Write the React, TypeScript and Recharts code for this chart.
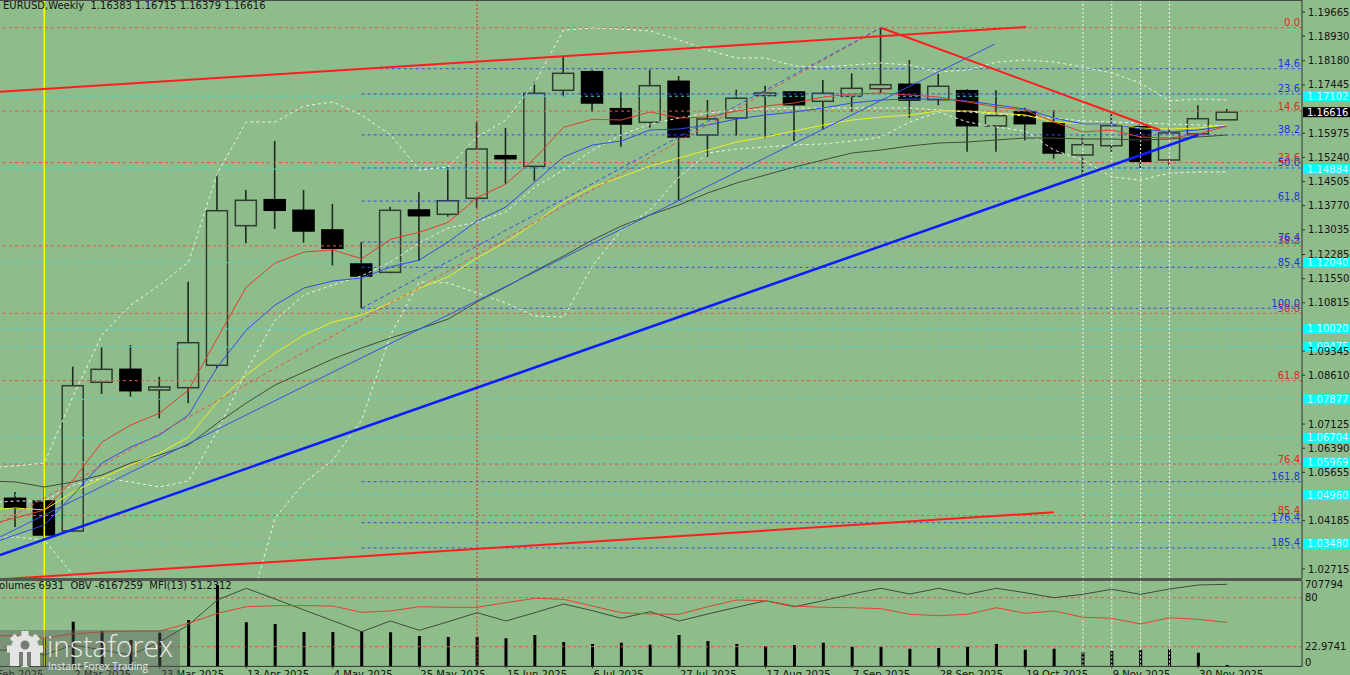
import React from "react";
import { ComposedChart, Bar, Line, XAxis, YAxis, ReferenceLine } from "recharts";

const BG = "#8fbc8b";
const FONT = '"DejaVu Sans", Verdana, sans-serif';
const INK = "#141414";

// weekly candles, week 0 = 16 Feb 2025 ... week 42 = 7 Dec 2025
const opens = [1.04866, 1.04784, 1.03871, 1.08396, 1.08791, 1.08162, 1.08232, 1.08913, 1.13162, 1.13953, 1.1363, 1.13031, 1.11996, 1.11743, 1.13639, 1.13508, 1.13995, 1.15292, 1.14969, 1.17282, 1.17848, 1.16722, 1.16308, 1.17556, 1.15922, 1.16439, 1.17118, 1.1723, 1.16947, 1.17099, 1.17331, 1.17465, 1.16996, 1.1727, 1.16196, 1.16631, 1.16287, 1.15313, 1.15596, 1.16174, 1.15161, 1.15952, 1.16383];
const highs = [1.05057, 1.05249, 1.08871, 1.09461, 1.09531, 1.08566, 1.11457, 1.14726, 1.14248, 1.15739, 1.14248, 1.13822, 1.12665, 1.1374, 1.14178, 1.14948, 1.16308, 1.16135, 1.17535, 1.18317, 1.179, 1.17221, 1.17909, 1.17717, 1.16987, 1.173, 1.17422, 1.17261, 1.17595, 1.17799, 1.19187, 1.18204, 1.17778, 1.17312, 1.17282, 1.16752, 1.16682, 1.15913, 1.16561, 1.16247, 1.16126, 1.16826, 1.16715];
const lows = [1.03992, 1.03597, 1.0384, 1.0804, 1.07958, 1.073, 1.07757, 1.08831, 1.12626, 1.13061, 1.12644, 1.11956, 1.10648, 1.11713, 1.12087, 1.13435, 1.13709, 1.1444, 1.14522, 1.17078, 1.16622, 1.15566, 1.16144, 1.13922, 1.15261, 1.159, 1.15821, 1.15739, 1.16083, 1.16622, 1.17191, 1.16448, 1.16825, 1.15413, 1.15413, 1.1576, 1.152, 1.14653, 1.15413, 1.14896, 1.15, 1.15882, 1.16379];
const closes = [1.0458, 1.03749, 1.08292, 1.08791, 1.0814, 1.08253, 1.09601, 1.13618, 1.13934, 1.1363, 1.13, 1.12474, 1.11631, 1.1363, 1.13466, 1.13922, 1.15496, 1.152, 1.17191, 1.17799, 1.16896, 1.16256, 1.17422, 1.15861, 1.16409, 1.17039, 1.172, 1.16844, 1.17191, 1.17343, 1.17452, 1.16987, 1.17404, 1.16205, 1.16509, 1.16266, 1.15374, 1.15626, 1.16205, 1.15121, 1.15983, 1.16418, 1.16616];

// indicator lines, first value is week -1 (just off the left edge)
const maRed = [1.04053, 1.04266, 1.0451, 1.05423, 1.06579, 1.07096, 1.07462, 1.08162, 1.09744, 1.11296, 1.12026, 1.12361, 1.12422, 1.12157, 1.12748, 1.12961, 1.13265, 1.14014, 1.14431, 1.15213, 1.16156, 1.16399, 1.16378, 1.16622, 1.16439, 1.16469, 1.16652, 1.16804, 1.16896, 1.17078, 1.17169, 1.172, 1.17139, 1.17078, 1.16926, 1.16774, 1.16682, 1.16317, 1.16013, 1.16074, 1.15861, 1.1583, 1.15952, 1.16196];
const maBlue = [1.03445, 1.03749, 1.04053, 1.04966, 1.0594, 1.06427, 1.06792, 1.07401, 1.08861, 1.09987, 1.10748, 1.11266, 1.11479, 1.1157, 1.11905, 1.12118, 1.12665, 1.13305, 1.13731, 1.14491, 1.15252, 1.15617, 1.15739, 1.16074, 1.16104, 1.16226, 1.16409, 1.1653, 1.16622, 1.16743, 1.16896, 1.16987, 1.17017, 1.17017, 1.16956, 1.16835, 1.16713, 1.16439, 1.16256, 1.16256, 1.16104, 1.16013, 1.16074, 1.16196];
const maYellow = [1.0451, 1.04571, 1.0451, 1.05057, 1.05484, 1.05879, 1.06244, 1.06731, 1.07796, 1.08618, 1.09288, 1.09835, 1.10231, 1.10444, 1.10809, 1.11266, 1.116, 1.12179, 1.12665, 1.13244, 1.13883, 1.14339, 1.14644, 1.14978, 1.15222, 1.15465, 1.15709, 1.15861, 1.16043, 1.16226, 1.16378, 1.16469, 1.1653, 1.16652, 1.16652, 1.16591, 1.1653, 1.16317, 1.16256, 1.16256, 1.16135, 1.16104, 1.16135, 1.16226];
const maGray = [1.05392, 1.05362, 1.0521, 1.05362, 1.05575, 1.0594, 1.06183, 1.06488, 1.07157, 1.07766, 1.08314, 1.08709, 1.09105, 1.0944, 1.09744, 1.10018, 1.10322, 1.1084, 1.11296, 1.11783, 1.12239, 1.12726, 1.13152, 1.13487, 1.13791, 1.14157, 1.14461, 1.14704, 1.14948, 1.15161, 1.15374, 1.15465, 1.15587, 1.15678, 1.15709, 1.1577, 1.1583, 1.1583, 1.158, 1.158, 1.1577, 1.158, 1.15861, 1.15922];
const bandUpper = [1.05788, 1.05849, 1.0594, 1.07981, 1.09835, 1.10748, 1.11357, 1.12057, 1.14765, 1.16317, 1.16317, 1.16804, 1.16926, 1.1653, 1.15922, 1.14857, 1.14948, 1.15861, 1.16378, 1.17504, 1.19117, 1.19178, 1.19147, 1.19087, 1.18813, 1.18508, 1.18265, 1.18265, 1.18021, 1.17991, 1.18052, 1.18113, 1.18052, 1.17839, 1.179, 1.18143, 1.18204, 1.18143, 1.17991, 1.17808, 1.17504, 1.16956, 1.17017, 1.16987];
const bandMiddle = [1.04723, 1.04784, 1.04784, 1.0527, 1.05484, 1.05362, 1.0521, 1.05392, 1.06914, 1.0874, 1.10292, 1.11053, 1.11357, 1.11631, 1.12057, 1.12635, 1.13092, 1.13274, 1.13578, 1.14339, 1.14857, 1.15465, 1.15922, 1.16256, 1.16439, 1.16591, 1.16682, 1.16713, 1.16743, 1.16743, 1.16743, 1.16743, 1.16743, 1.16682, 1.16622, 1.16561, 1.165, 1.16439, 1.16348, 1.16317, 1.16287, 1.16256, 1.16226, 1.16196];
const bandLower = [1.03688, 1.03688, 1.03597, 1.02532, 1.01162, 0.99945, 0.99032, 0.98728, 0.99032, 1.01162, 1.04266, 1.05331, 1.06031, 1.07249, 1.09835, 1.11448, 1.11418, 1.11113, 1.10809, 1.10413, 1.10383, 1.11935, 1.13031, 1.13639, 1.14644, 1.15374, 1.15496, 1.15556, 1.15617, 1.15648, 1.15739, 1.15861, 1.16317, 1.16622, 1.16317, 1.16165, 1.16043, 1.15465, 1.15161, 1.14644, 1.14552, 1.14765, 1.14796, 1.14796];

// lower window
const volumes = [132000, 140500, 223500, 177000, 132000, 168500, 232000, 407000, 220500, 212000, 172000, 172000, 177000, 170500, 152000, 147000, 148500, 140500, 157000, 122000, 112000, 118500, 108500, 157000, 127000, 112000, 102000, 107000, 118500, 98500, 98500, 88500, 92000, 98500, 112000, 83500, 88500, 70500, 77000, 83500, 87000, 68500, 6931];
const obv = [-2600000, -2577000, -2827000, -2327000, -2577000, -2827000, -2162000, -1327000, -77000, 508000, -27000, -577000, -1112000, -1662000, -1127000, -1592000, -1162000, -712000, -1127000, -712000, -277000, -612000, -992000, -662000, -1127000, -777000, -442000, -112000, -412000, -112000, 223000, 508000, 223000, 508000, 208000, 508000, 288000, 38000, 208000, 458000, 208000, 473000, 673000, 707794];
const mfi = [35, 36, 33, 38, 40, 41, 41, 50.2, 61.8, 69.5, 70.7, 70.7, 70.3, 63.0, 64.5, 69.5, 68.8, 68.8, 74.2, 79.3, 78.1, 70.3, 62.5, 61.0, 60.7, 69.5, 77.3, 76.5, 70.3, 68.8, 68.3, 67.2, 60.7, 59.0, 60.7, 68.3, 61.8, 64.5, 57.2, 56.0, 49.4, 56.7, 54.8, 51.23];

const dateTicks = [-1, 2, 5, 8, 11, 14, 17, 20, 23, 26, 29, 32, 35, 38, 41];
const dateLabels = ["9 Feb 2025", "2 Mar 2025", "23 Mar 2025", "13 Apr 2025", "4 May 2025", "25 May 2025", "15 Jun 2025", "6 Jul 2025", "27 Jul 2025", "17 Aug 2025", "7 Sep 2025", "28 Sep 2025", "19 Oct 2025", "9 Nov 2025", "30 Nov 2025"];

const priceTicks = [1.19665, 1.1893, 1.1818, 1.17445, 1.15975, 1.1524, 1.14505, 1.1377, 1.13035, 1.12285, 1.1155, 1.10815, 1.09345, 1.0861, 1.07125, 1.0639, 1.05655, 1.04185, 1.02715];

// fibo from the Jan low, full width
const redFibPrices = [1.19187, 1.16649, 1.15085, 1.12547, 1.10496, 1.08445, 1.05907, 1.04343];
const redFibNames = ["0.0", "14.6", "23.6", "38.2", "50.0", "61.8", "76.4", "85.4"];
// fibo from the May low
const blueFibStart = 12;
const blueFibPrices = [1.1794, 1.17172, 1.15925, 1.14918, 1.1391, 1.12663, 1.11895, 1.10648, 1.05371, 1.04124, 1.03356];
const blueFibNames = ["14.6", "23.6", "38.2", "50.0", "61.8", "76.4", "85.4", "100.0", "161.8", "176.4", "185.4"];
const cyanLevels = [1.17102, 1.14884, 1.1204, 1.1002, 1.09475, 1.07877, 1.06704, 1.05969, 1.0496, 1.0348];
const lastPrice = 1.16616;

// trend lines, anchors as [week, price]
const redChannelTop = [[-0.5355, 1.17239], [35.03, 1.19208]];
const redChannelBottom = [[-0.5355, 1.02401], [35.99, 1.0444]];
const redFall = [[30, 1.19187], [39.67, 1.16074]];
const blueSupport = [[-0.5355, 1.0314], [40.99, 1.15922]];
const blueThin = [[-0.5355, 1.03688], [33.95, 1.18691]];
const blueFan = [[12, 1.10648], [30, 1.19187]];
const redFan = [[-0.5355, 1.04114], [30, 1.19187]];

const markedWeeks = [37, 38, 39, 40];

const X_MIN = -0.5355;
const X_MAX = 44.594;

const rows = maRed.map((_, k) => {
  const i = k - 1;
  const has = k > 0;
  return {
    week: i,
    open: has ? opens[i] : null,
    high: has ? highs[i] : null,
    low: has ? lows[i] : null,
    close: has ? closes[i] : null,
    range: has ? [lows[i], highs[i]] : null,
    maRed: maRed[k],
    maBlue: maBlue[k],
    maYellow: maYellow[k],
    maGray: maGray[k],
    bandUpper: bandUpper[k],
    bandMiddle: bandMiddle[k],
    bandLower: bandLower[k],
    volume: has ? volumes[i] : null,
    obv: obv[k],
    mfi: mfi[k],
  };
});

const seg = (pts: number[][]) => pts.map(([x, y]) => ({ x, y }));

const Candle = (props: any) => {
  const { x, y, width, height, payload } = props;
  if (!payload || payload.open == null || !isFinite(y) || !isFinite(height)) return null;
  const top0 = Math.min(y, y + height);
  const h = Math.abs(height);
  const span = payload.high - payload.low || 1e-9;
  const py = (v: number) => top0 + ((payload.high - v) / span) * h;
  const bt = py(Math.max(payload.open, payload.close));
  const bb = py(Math.min(payload.open, payload.close));
  const cx = x + width / 2;
  const bull = payload.close >= payload.open;
  return (
    <g>
      <line x1={cx} x2={cx} y1={top0} y2={top0 + h} stroke="#1e2a1e" strokeWidth={1.6} />
      <rect x={x + 0.5} y={bt} width={width - 1} height={Math.max(bb - bt, 1)} fill={bull ? BG : "#000"} stroke={bull ? "#2f3d2f" : "#000"} strokeWidth={1.5} />
    </g>
  );
};

const LevelTag = (props: any) => {
  const { viewBox, text, color } = props;
  if (!viewBox) return null;
  return (
    <text x={viewBox.x + viewBox.width - 2} y={viewBox.y - 1.5} textAnchor="end" fill={color} fontSize={10} fontFamily={FONT}>
      {text}
    </text>
  );
};

const PriceBox = (props: any) => {
  const { viewBox, text, bg, fg } = props;
  if (!viewBox) return null;
  const x0 = viewBox.x + viewBox.width + 1;
  return (
    <g>
      <rect x={x0} y={viewBox.y - 5} width={48} height={10} fill={bg} />
      <text x={x0 + 4} y={viewBox.y} dominantBaseline="central" fill={fg} fontSize={10} fontFamily={FONT}>
        {text}
      </text>
    </g>
  );
};

const SideText = (props: any) => {
  const { viewBox, text } = props;
  if (!viewBox) return null;
  return (
    <text x={viewBox.x + viewBox.width + 3} y={viewBox.y} dominantBaseline="central" fill={INK} fontSize={10} fontFamily={FONT}>
      {text}
    </text>
  );
};

const DateTick = (props: any) => {
  const { x, y, payload } = props;
  const idx = dateTicks.indexOf(payload.value);
  return (
    <g>
      <line x1={x} x2={x} y1={y} y2={y + 2} stroke="#333" />
      <text x={x + 1} y={y + 8} dominantBaseline="central" fill={INK} fontSize={10} fontFamily={FONT}>
        {dateLabels[idx]}
      </text>
    </g>
  );
};

const MfiTick = (props: any) => {
  const { x, y, payload } = props;
  return (
    <text x={x} y={payload.value === 0 ? y - 3.7 : y} dominantBaseline="central" fill={INK} fontSize={10} fontFamily={FONT}>
      {String(payload.value)}
    </text>
  );
};

const Logo = () => (
  <svg width={180} height={45} style={{ position: "absolute", left: 0, top: 630 }}>
    <rect x={0} y={0} width={180} height={45} fill="rgba(90,90,90,0.42)" />
    <g fill="#e4e4e4">
      <circle cx={25} cy={19} r={14} />
      {[0, 45, 90, 135, 180, 225, 270, 315].map((a) => (
        <rect key={a} x={21.5} y={1} width={7} height={7} transform={`rotate(${a} 25 19)`} />
      ))}
      <rect x={10} y={19} width={30} height={17} />
    </g>
    <circle cx={25} cy={15} r={4.5} fill="#747c74" />
    <rect x={19} y={22} width={12} height={14} fill="#747c74" />
    <rect x={23} y={22} width={4} height={14} fill="#e4e4e4" />
    <text x={47} y={27} fill="#e8e8e8" fontSize={29} fontFamily='"Open Sans", sans-serif' fontWeight={300} textLength={126} lengthAdjust="spacingAndGlyphs">
      instaforex
    </text>
    <text x={48} y={40} fill="#e8e8e8" fontSize={11.5} fontFamily='"Open Sans", sans-serif' textLength={100} lengthAdjust="spacingAndGlyphs">
      Instant Forex Trading
    </text>
  </svg>
);

export default function App() {
  const vertical = (yAxisId?: string, midColor = "#e03030") => [
    <ReferenceLine key="y1" x={1} yAxisId={yAxisId as any} stroke="#ffff00" strokeWidth={1.5} ifOverflow="hidden" />,
    <ReferenceLine key="r16" x={16} yAxisId={yAxisId as any} stroke={midColor} strokeDasharray="2 2" ifOverflow="hidden" />,
    ...markedWeeks.map((w) => (
      <ReferenceLine key={"w" + w} x={w} yAxisId={yAxisId as any} stroke="#f4f4f4" strokeDasharray="2 2" ifOverflow="hidden" />
    )),
  ];

  return (
    <div style={{ position: "fixed", left: 0, top: 0, width: 1350, height: 675, overflow: "hidden", background: BG, fontFamily: FONT }}>
      <div style={{ position: "absolute", left: 0, top: 0 }}>
        <ComposedChart width={1350} height={580} data={rows} margin={{ top: 0, right: 0, bottom: 2, left: 0 }}>
          <XAxis dataKey="week" type="number" domain={[X_MIN, X_MAX]} allowDataOverflow hide />
          <YAxis
            orientation="right"
            width={48}
            domain={[1.0244, 1.2003]}
            allowDataOverflow
            ticks={priceTicks}
            interval={0}
            tickFormatter={(v: number) => v.toFixed(5)}
            tick={{ fontSize: 10, fill: INK, fontFamily: FONT }}
            tickSize={3}
            tickMargin={3}
            stroke="#333"
          />
          {cyanLevels.map((p) => (
            <ReferenceLine key={"c" + p} y={p} stroke="#45d9cf" strokeDasharray="3 3" ifOverflow="hidden"
              label={<PriceBox text={p.toFixed(5)} bg="#00ffff" fg="#d6ffff" />} />
          ))}
          {redFibPrices.map((p, n) => (
            <ReferenceLine key={"rf" + n} y={p} stroke="#e0574a" strokeDasharray="3 3" ifOverflow="hidden"
              label={<LevelTag text={redFibNames[n]} color="#e02a20" />} />
          ))}
          {blueFibPrices.map((p, n) => (
            <ReferenceLine key={"bf" + n} segment={[{ x: blueFibStart, y: p }, { x: X_MAX, y: p }]} stroke="#3a4fe0" strokeDasharray="3 3" ifOverflow="hidden"
              label={<LevelTag text={blueFibNames[n]} color="#2233dd" />} />
          ))}
          {vertical(undefined, "#e03030")}
          <Line dataKey="bandUpper" stroke="#eef4ea" strokeDasharray="3 3" strokeWidth={1} dot={false} isAnimationActive={false} />
          <Line dataKey="bandMiddle" stroke="#eef4ea" strokeDasharray="3 3" strokeWidth={1} dot={false} isAnimationActive={false} />
          <Line dataKey="bandLower" stroke="#eef4ea" strokeDasharray="3 3" strokeWidth={1} dot={false} isAnimationActive={false} />
          <Line dataKey="maGray" stroke="#3d4d3d" strokeWidth={1} dot={false} isAnimationActive={false} />
          <Line dataKey="maYellow" stroke="#eeee22" strokeWidth={1} dot={false} isAnimationActive={false} />
          <Line dataKey="maBlue" stroke="#2e4ee6" strokeWidth={1} dot={false} isAnimationActive={false} />
          <Line dataKey="maRed" stroke="#e0402c" strokeWidth={1} dot={false} isAnimationActive={false} />
          <ReferenceLine segment={seg(redFan)} stroke="#e0574a" strokeDasharray="4 3" ifOverflow="hidden" />
          <ReferenceLine segment={seg(blueFan)} stroke="#3a4fe0" strokeDasharray="4 3" ifOverflow="hidden" />
          <ReferenceLine segment={seg(blueThin)} stroke="#3554e0" strokeWidth={1} ifOverflow="hidden" />
          <Bar dataKey="range" barSize={22} shape={<Candle />} isAnimationActive={false} />
          <ReferenceLine segment={seg(redChannelTop)} stroke="#ff1e1e" strokeWidth={2} ifOverflow="hidden" />
          <ReferenceLine segment={seg(redChannelBottom)} stroke="#ff1e1e" strokeWidth={2} ifOverflow="hidden" />
          <ReferenceLine segment={seg(redFall)} stroke="#ff1e1e" strokeWidth={2} ifOverflow="hidden" />
          <ReferenceLine segment={seg(blueSupport)} stroke="#0a1eff" strokeWidth={2.5} ifOverflow="hidden" />
          <ReferenceLine y={lastPrice} stroke="none" label={<PriceBox text={lastPrice.toFixed(5)} bg="#000" fg="#fff" />} />
        </ComposedChart>
      </div>

      <div style={{ position: "absolute", left: 0, top: 0, width: 1302, height: 1, background: "#4a4a4a" }} />
      <div style={{ position: "absolute", left: 0, top: 577.5, width: 1302, height: 3, background: "#505850" }} />

      <div style={{ position: "absolute", left: 0, top: 578 }}>
        <ComposedChart width={1350} height={110} data={rows} margin={{ top: 2.5, right: 0, bottom: 0, left: 0 }}>
          <XAxis
            dataKey="week"
            type="number"
            domain={[X_MIN, X_MAX]}
            allowDataOverflow
            ticks={dateTicks}
            interval={0}
            height={21.6}
            tickSize={0}
            tickMargin={0}
            tickLine={false}
            tick={<DateTick />}
            stroke="#333"
          />
          <YAxis yAxisId="mfi" orientation="right" width={48} domain={[0, 100]} ticks={[0, 22.9741, 80]} interval={0}
            tickSize={0} tickMargin={3} tickLine={false} tick={<MfiTick />} stroke="#333" />
          <YAxis yAxisId="vol" hide domain={[0, 429500]} allowDataOverflow />
          <YAxis yAxisId="obv" hide domain={[-3397206, 897794]} allowDataOverflow />
          <ReferenceLine yAxisId="mfi" y={80} stroke="#e0574a" strokeDasharray="3 3" />
          <ReferenceLine yAxisId="mfi" y={22.9741} stroke="#e0574a" strokeDasharray="3 3" />
          {vertical("mfi", "#e03030")}
          <Bar yAxisId="vol" dataKey="volume" barSize={3} fill="#000" isAnimationActive={false} />
          <Line yAxisId="obv" dataKey="obv" stroke="#3d4d3d" strokeWidth={1} dot={false} isAnimationActive={false} />
          <Line yAxisId="mfi" dataKey="mfi" stroke="#e0452e" strokeWidth={1} dot={false} isAnimationActive={false} />
          <ReferenceLine yAxisId="obv" y={707794} stroke="none" label={<SideText text="707794" />} />
        </ComposedChart>
      </div>

      <div style={{ position: "absolute", left: 3, top: 0, fontSize: 10, lineHeight: "11px", color: INK, whiteSpace: "pre" }}>
        {"EURUSD,Weekly  1.16383 1.16715 1.16379 1.16616"}
      </div>
      <div style={{ position: "absolute", left: -7, top: 579.5, fontSize: 10, lineHeight: "11px", color: INK, whiteSpace: "pre" }}>
        {"Volumes 6931  OBV -6167259  MFI(13) 51.2312"}
      </div>
      <Logo />
    </div>
  );
}
